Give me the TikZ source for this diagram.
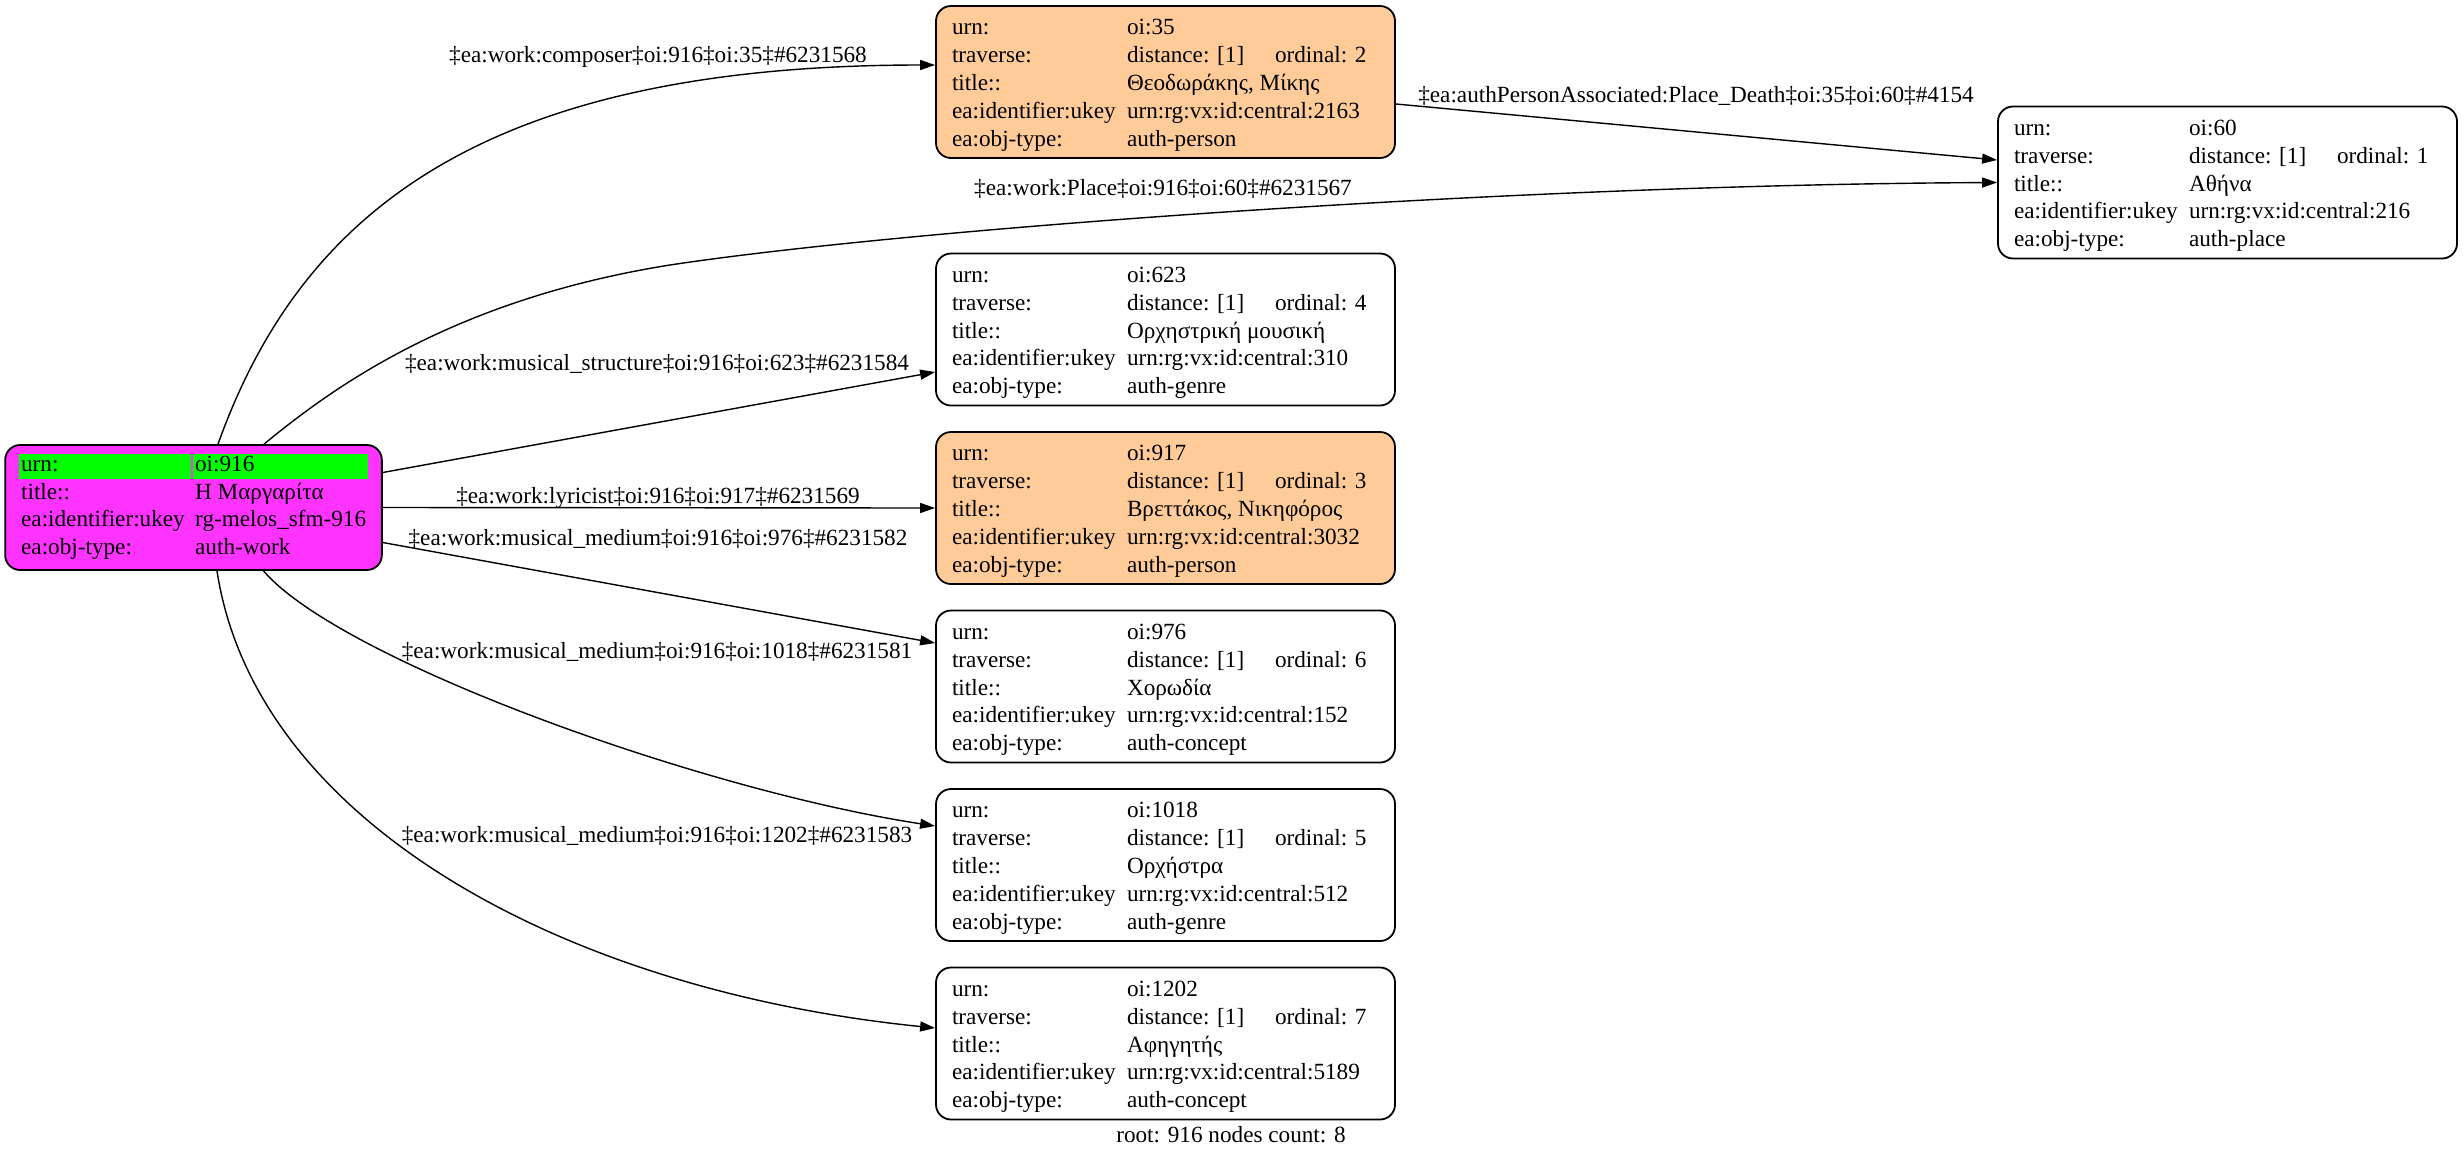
\documentclass[tikz,border=0pt]{standalone}
\usepackage{fontspec}
\setmainfont{Liberation Serif}
\usetikzlibrary{arrows.meta,calc}

\definecolor{urngreen}{HTML}{00FF00}
\definecolor{workpink}{HTML}{FF33FF}
\definecolor{personpeach}{HTML}{FFCC99}

\newcommand{\kv}[2]{\makebox[87.5pt][l]{#1}\makebox[126pt][l]{#2}}
\newcommand{\kvfirst}[2]{\rule{0pt}{12.7pt}\kv{#1}{#2}}
\newcommand{\trav}[1]{\makebox[74pt][l]{distance: [1]}ordinal: #1}
\newcommand{\rkv}[2]{\makebox[85.8pt][l]{\hspace{1pt}#1}\hspace{1.2pt}\makebox[87.35pt][l]{\hspace{1pt}#2}}
\newcommand{\greencell}[2]{\colorbox{urngreen}{\makebox[#1][l]{\rule[-3pt]{0pt}{10.5pt}#2}}}

\begin{document}
\begin{tikzpicture}[x=0.5pt,y=-0.5pt,
    every node/.style={font=\fontsize{11.6pt}{13.9pt}\selectfont},
    rec/.style={draw,rounded corners=7.5pt,line width=0.9pt,inner xsep=8pt,inner ysep=0pt,
        minimum width=229.5pt,minimum height=76pt},
    person/.style={rec,fill=personpeach},
    work/.style={rec,fill=workpink,inner xsep=7pt,minimum width=188.35pt,minimum height=62.5pt},
    rel/.style={-{Triangle[length=7.5pt,width=5pt]},line width=0.7pt},
    lbl/.style={anchor=base,inner sep=0pt}]
    \useasboundingbox (0,0) rectangle (2463,1157);

    \node[work] (oi916) at (193.5,507.5) {\setlength{\fboxsep}{1pt}\begin{tabular}{@{}l@{}}
        \greencell{83.8pt}{urn:}\hspace{1.2pt}\greencell{85.35pt}{oi:916}\\
        \rkv{title::}{Η Μαργαρίτα}\\
        \rkv{ea:identifier:ukey}{rg-melos\_sfm-916}\\
        \rkv{ea:obj-type:}{auth-work}
    \end{tabular}};

    \node[person] (oi35) at (1165.5,82) {\begin{tabular}{@{}l@{}}
        \kvfirst{urn:}{oi:35}\\
        \kv{traverse:}{\trav{2}}\\
        \kv{title::}{Θεοδωράκης, Μίκης}\\
        \kv{ea:identifier:ukey}{urn:rg:vx:id:central:2163}\\
        \kv{ea:obj-type:}{auth-person}
    \end{tabular}};

    \node[rec] (oi60) at (2227.5,182.5) {\begin{tabular}{@{}l@{}}
        \kvfirst{urn:}{oi:60}\\
        \kv{traverse:}{\trav{1}}\\
        \kv{title::}{Αθήνα}\\
        \kv{ea:identifier:ukey}{urn:rg:vx:id:central:216}\\
        \kv{ea:obj-type:}{auth-place}
    \end{tabular}};

    \node[rec] (oi623) at (1165.5,329.5) {\begin{tabular}{@{}l@{}}
        \kvfirst{urn:}{oi:623}\\
        \kv{traverse:}{\trav{4}}\\
        \kv{title::}{Ορχηστρική μουσική}\\
        \kv{ea:identifier:ukey}{urn:rg:vx:id:central:310}\\
        \kv{ea:obj-type:}{auth-genre}
    \end{tabular}};

    \node[person] (oi917) at (1165.5,508) {\begin{tabular}{@{}l@{}}
        \kvfirst{urn:}{oi:917}\\
        \kv{traverse:}{\trav{3}}\\
        \kv{title::}{Βρεττάκος, Νικηφόρος}\\
        \kv{ea:identifier:ukey}{urn:rg:vx:id:central:3032}\\
        \kv{ea:obj-type:}{auth-person}
    \end{tabular}};

    \node[rec] (oi976) at (1165.5,686.5) {\begin{tabular}{@{}l@{}}
        \kvfirst{urn:}{oi:976}\\
        \kv{traverse:}{\trav{6}}\\
        \kv{title::}{Χορωδία}\\
        \kv{ea:identifier:ukey}{urn:rg:vx:id:central:152}\\
        \kv{ea:obj-type:}{auth-concept}
    \end{tabular}};

    \node[rec] (oi1018) at (1165.5,865) {\begin{tabular}{@{}l@{}}
        \kvfirst{urn:}{oi:1018}\\
        \kv{traverse:}{\trav{5}}\\
        \kv{title::}{Ορχήστρα}\\
        \kv{ea:identifier:ukey}{urn:rg:vx:id:central:512}\\
        \kv{ea:obj-type:}{auth-genre}
    \end{tabular}};

    \node[rec] (oi1202) at (1165.5,1043.5) {\begin{tabular}{@{}l@{}}
        \kvfirst{urn:}{oi:1202}\\
        \kv{traverse:}{\trav{7}}\\
        \kv{title::}{Αφηγητής}\\
        \kv{ea:identifier:ukey}{urn:rg:vx:id:central:5189}\\
        \kv{ea:obj-type:}{auth-concept}
    \end{tabular}};

    \draw[rel] ($(oi916.north)+(24.5,0)$) .. controls (300,215) and (480,65) .. ($(oi35.west)+(0,-17)$);
    \draw[rel] ($(oi916.north)+(70.5,0)$) .. controls (330,390) and (450,300) .. (670,265)
        .. controls (900,230) and (1500,185) .. (oi60.west);
    \draw[rel] ($(oi35.east)+(0,22)$) -- ($(oi60.west)+(0,-22.5)$);
    \draw[rel] ($(oi916.east)+(0,-35)$) -- ($(oi623.west)+(0,42.5)$);
    \draw[rel] (oi916.east) -- (oi917.west);
    \draw[rel] ($(oi916.east)+(0,35)$) -- ($(oi976.west)+(0,-43.5)$);
    \draw[rel] ($(oi916.south)+(70,0)$) .. controls (340,660) and (700,790) .. ($(oi1018.west)+(0,-39)$);
    \draw[rel] ($(oi916.south)+(23.5,0)$) .. controls (255,820) and (560,990) .. ($(oi1202.west)+(0,-15.5)$);

    \node[lbl] (l-composer) at (658,62) {‡ea:work:composer‡oi:916‡oi:35‡\#6231568};
    \node[lbl] (l-place) at (1163,195) {‡ea:work:Place‡oi:916‡oi:60‡\#6231567};
    \node[lbl] (l-death) at (1696,102) {‡ea:authPersonAssociated:Place\_Death‡oi:35‡oi:60‡\#4154};
    \node[lbl] (l-structure) at (657,370) {‡ea:work:musical\_structure‡oi:916‡oi:623‡\#6231584};
    \node[lbl] (l-lyricist) at (658,503) {‡ea:work:lyricist‡oi:916‡oi:917‡\#6231569};
    \node[lbl] (l-medium976) at (658,545) {‡ea:work:musical\_medium‡oi:916‡oi:976‡\#6231582};
    \node[lbl] (l-medium1018) at (657,658) {‡ea:work:musical\_medium‡oi:916‡oi:1018‡\#6231581};
    \node[lbl] (l-medium1202) at (657,842) {‡ea:work:musical\_medium‡oi:916‡oi:1202‡\#6231583};

    \node[lbl] (footer) at (1231,1142) {root: 916 nodes count: 8};
\end{tikzpicture}
\end{document}
